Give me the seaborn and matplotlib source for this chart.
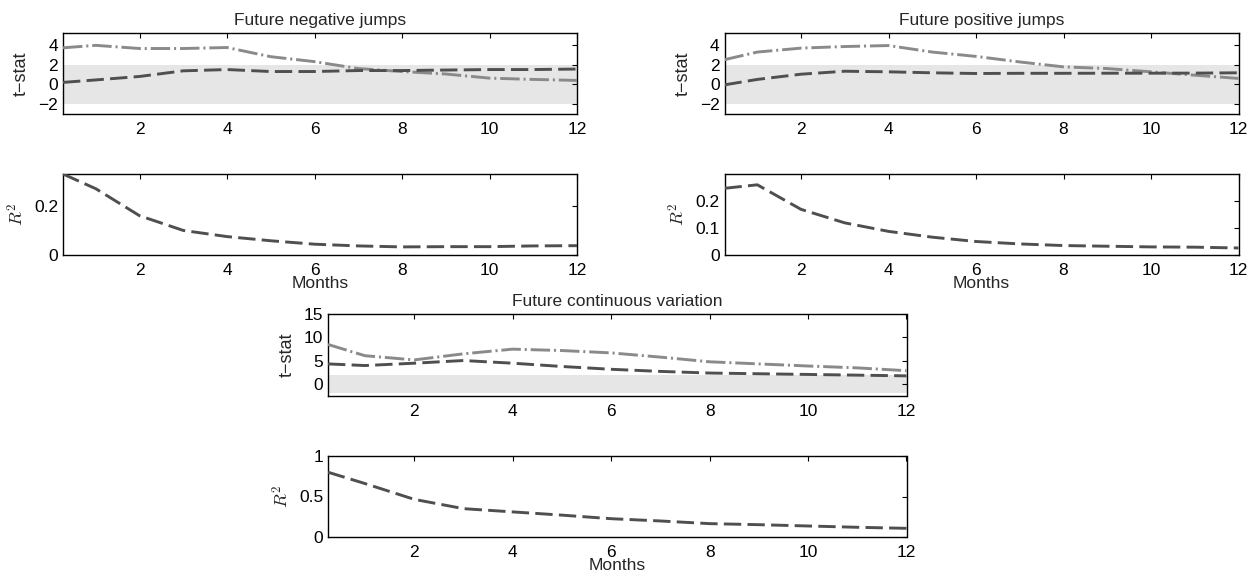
import numpy as np
import pandas as pd
import matplotlib
matplotlib.use("Agg")
import matplotlib.pyplot as plt
import seaborn as sns

# Forecast horizons in months (first horizon is one week)
months = [0.25, 1, 2, 3, 4, 5, 6, 7, 8, 9, 10, 11, 12]

# Future negative jumps
neg_t_a = [0.2, 0.45, 0.8, 1.37, 1.5, 1.3, 1.3, 1.4, 1.4, 1.45, 1.5, 1.5, 1.55]
neg_t_b = [3.7, 3.95, 3.63, 3.63, 3.73, 2.8, 2.3, 1.6, 1.3, 1.05, 0.63, 0.5, 0.4]
neg_r2 = [0.33, 0.27, 0.16, 0.10, 0.075, 0.058, 0.044, 0.037, 0.033, 0.034, 0.034, 0.037, 0.038]

# Future positive jumps
pos_t_a = [-0.05, 0.5, 1.03, 1.33, 1.27, 1.17, 1.1, 1.12, 1.12, 1.13, 1.13, 1.14, 1.17]
pos_t_b = [2.5, 3.27, 3.67, 3.83, 3.93, 3.27, 2.83, 2.27, 1.77, 1.6, 1.27, 0.93, 0.6]
pos_r2 = [0.247, 0.26, 0.169, 0.119, 0.0875, 0.066, 0.05, 0.041, 0.035, 0.0325, 0.03, 0.029, 0.026]

# Future continuous variation
cont_t_a = [4.35, 4.0, 4.5, 5.07, 4.5, 3.8, 3.2, 2.75, 2.4, 2.25, 2.1, 1.95, 1.8]
cont_t_b = [8.5, 6.1, 5.2, 6.5, 7.5, 7.2, 6.7, 5.8, 4.8, 4.35, 3.9, 3.5, 2.9]
cont_r2 = [0.80, 0.66, 0.465, 0.35, 0.31, 0.27, 0.226, 0.198, 0.165, 0.152, 0.136, 0.12, 0.107]

xticks = [2, 4, 6, 8, 10, 12]

sns.set_style("white")
plt.rcParams["font.family"] = ["Liberation Sans", "DejaVu Sans"]
plt.rcParams["mathtext.fontset"] = "cm"
plt.rcParams["lines.scale_dashes"] = False

DARK = "#4f4f4f"
LIGHT = "#8a8a8a"
DASH = (0, (12.5, 4.5))
DASHDOT = (0, (14, 2.8, 1.5, 2.8))
LW = 2.1
FS = 12.5

fig = plt.figure(figsize=(12.55, 5.74), dpi=100)
W, H = 1255.0, 574.0


def make_axes(left, top, right, bottom):
    return fig.add_axes([left / W, 1 - bottom / H, (right - left) / W, (bottom - top) / H])


def style(ax, ylim, yticks, yticklabels):
    ax.set_xlim(0.25, 12)
    ax.set_ylim(*ylim)
    ax.set_xticks(xticks)
    ax.set_xticklabels([str(t) for t in xticks])
    ax.set_yticks(yticks)
    ax.set_yticklabels(yticklabels)
    ax.tick_params(direction="in", length=3.5, width=0.8, top=True, right=True,
                   labelsize=FS, colors="black")
    ax.tick_params(axis="x", pad=5.5)
    ax.tick_params(axis="y", pad=3.5)
    for s in ax.spines.values():
        s.set_visible(True)
        s.set_color("black")
        s.set_linewidth(1.0)
    ax.set_xlabel("")
    ax.set_ylabel("")


def tstat_panel(ax, a, b, ylim, yticks, yticklabels, title):
    ax.axhspan(-1.96, 1.96, color="#e6e6e6", lw=0, zorder=0)
    df = pd.DataFrame({"Months": months, "a": a, "b": b})
    sns.lineplot(data=df, x="Months", y="b", ax=ax, color=LIGHT, lw=LW,
                 linestyle=DASHDOT, zorder=3)
    sns.lineplot(data=df, x="Months", y="a", ax=ax, color=DARK, lw=LW,
                 linestyle=DASH, zorder=4)
    style(ax, ylim, yticks, yticklabels)
    ax.set_ylabel("t\u2212stat", fontsize=13, labelpad=6)
    ax.set_title(title, fontsize=FS, pad=6)


def r2_panel(ax, r2, ylim, yticks, yticklabels):
    df = pd.DataFrame({"Months": months, "R2": r2})
    sns.lineplot(data=df, x="Months", y="R2", ax=ax, color=DARK, lw=LW,
                 linestyle=DASH, zorder=4)
    style(ax, ylim, yticks, yticklabels)
    ax.set_ylabel(r"$R^2$", fontsize=13, labelpad=5)
    ax.set_xlabel("Months", fontsize=FS, labelpad=-1)


ax1 = make_axes(63, 33, 577, 114)
tstat_panel(ax1, neg_t_a, neg_t_b, (-3, 5.2), [-2, 0, 2, 4],
            ["\u22122", "0", "2", "4"], "Future negative jumps")
ax2 = make_axes(724.5, 33, 1238.5, 114)
tstat_panel(ax2, pos_t_a, pos_t_b, (-3, 5.2), [-2, 0, 2, 4],
            ["\u22122", "0", "2", "4"], "Future positive jumps")
ax3 = make_axes(63, 174, 577, 255)
r2_panel(ax3, neg_r2, (0, 0.33), [0, 0.2], ["0", "0.2"])
ax4 = make_axes(724.5, 174, 1238.5, 255)
r2_panel(ax4, pos_r2, (0, 0.3), [0, 0.1, 0.2], ["0", "0.1", "0.2"])
ax5 = make_axes(328, 314, 906.5, 396)
tstat_panel(ax5, cont_t_a, cont_t_b, (-2.5, 15), [0, 5, 10, 15],
            ["0", "5", "10", "15"], "Future continuous variation")
ax6 = make_axes(328, 456, 906.5, 537)
r2_panel(ax6, cont_r2, (0, 1), [0, 0.5, 1], ["0", "0.5", "1"])

fig.savefig("out.png", dpi=100, facecolor="white")
